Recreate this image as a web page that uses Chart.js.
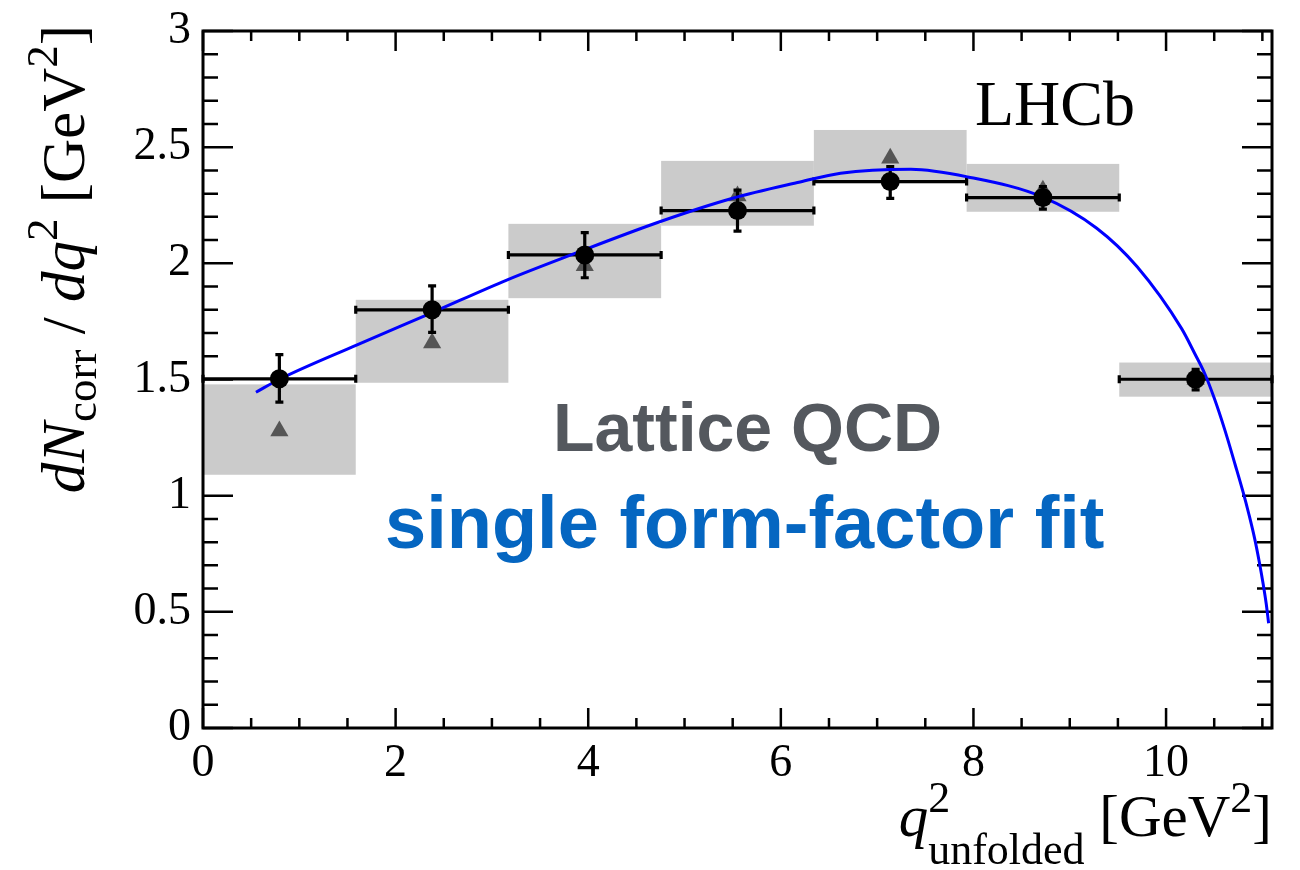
<!DOCTYPE html>
<html><head><meta charset="utf-8">
<script src="https://cdn.jsdelivr.net/npm/chart.js@4.4.1/dist/chart.umd.min.js"></script>
<style>html,body{margin:0;padding:0;background:#fff;}#wrap{width:1300px;height:870px;position:relative;}</style>
</head><body><div id="wrap"><canvas id="c"></canvas></div>
<script>
// ---- data ----
const binEdges   = [0, 1.586, 3.171, 4.757, 6.343, 7.929, 9.514, 11.1];
const binCenters = [0.793, 2.379, 3.964, 5.55, 7.136, 8.721, 10.307];
const dataY      = [1.503, 1.800, 2.036, 2.227, 2.352, 2.283, 1.501];
const statLow    = [1.403, 1.703, 1.938, 2.139, 2.280, 2.233, 1.455];
const statHigh   = [1.607, 1.903, 2.132, 2.315, 2.416, 2.330, 1.544];
const boxLow     = [1.090, 1.486, 1.850, 2.162, 2.345, 2.222, 1.426];
const boxHigh    = [1.479, 1.843, 2.170, 2.441, 2.574, 2.428, 1.573];
const latticeY   = [1.278, 1.657, 1.990, 2.290, 2.452, 2.315, 1.500];
const fitX = [0.55, 0.79, 1.6, 2.38, 3.16, 3.82, 4.75, 5.5, 6.2, 6.62, 7.35, 7.94, 8.72, 9.28, 9.7, 10.16, 10.3, 10.4, 10.5, 10.61, 10.72, 10.8, 10.86, 10.92, 10.97, 11.01, 11.04, 11.065];
const fitY = [1.445, 1.50, 1.649, 1.788, 1.929, 2.036, 2.18, 2.28, 2.35, 2.388, 2.405, 2.372, 2.285, 2.151, 1.985, 1.72, 1.61, 1.527, 1.42, 1.283, 1.13, 1.015, 0.92, 0.815, 0.71, 0.615, 0.535, 0.451];
const xTicks = [0, 2, 4, 6, 8, 10];
const yTicks = [0, 0.5, 1, 1.5, 2, 2.5, 3];
const xRange = [0, 11.1];
const yRange = [0, 3];

const SERIF = '"Liberation Serif", "Times New Roman", serif';
const SANS = '"Liberation Sans", Arial, sans-serif';

function drawRich(ctx, segs, x0, y0) {
  let x = x0, lastAdv = 0;
  for (const s of segs) {
    ctx.font = s.f;
    if (s.stack) x -= lastAdv;
    ctx.fillText(s.t, x, y0 + (s.dy || 0));
    const w = ctx.measureText(s.t).width;
    if (s.stack) x += Math.max(w, lastAdv); else x += w;
    lastAdv = w;
  }
  return x - x0;
}
function richWidth(ctx, segs) {
  let x = 0, lastAdv = 0;
  for (const s of segs) {
    ctx.font = s.f;
    const w = ctx.measureText(s.t).width;
    if (s.stack) { x -= lastAdv; x += Math.max(w, lastAdv); } else x += w;
    lastAdv = w;
  }
  return x;
}

const decor = {
  id: 'decor',
  beforeDatasetsDraw(chart) {
    const {ctx, chartArea: a, scales: {x, y}} = chart;
    ctx.save();
    ctx.strokeStyle = '#000';
    ctx.lineWidth = 2.5;
    ctx.beginPath();
    for (let k = 0; k * 0.5 <= xRange[1] + 1e-9; k++) {
      const px = x.getPixelForValue(k * 0.5);
      const len = (k % 4 === 0) ? 20 : 10;
      ctx.moveTo(px, a.bottom); ctx.lineTo(px, a.bottom - len);
      ctx.moveTo(px, a.top); ctx.lineTo(px, a.top + len);
    }
    for (let k = 0; k * 0.1 <= yRange[1] + 1e-9; k++) {
      const py = y.getPixelForValue(k * 0.1);
      const len = (k % 5 === 0) ? 30 : 15;
      ctx.moveTo(a.left, py); ctx.lineTo(a.left + len, py);
      ctx.moveTo(a.right, py); ctx.lineTo(a.right - len, py);
    }
    ctx.stroke();
    ctx.fillStyle = '#cbcbcb';
    for (let i = 0; i < binCenters.length; i++) {
      const x0 = x.getPixelForValue(binEdges[i]);
      const x1 = x.getPixelForValue(binEdges[i + 1]);
      const y0 = y.getPixelForValue(boxHigh[i]);
      const y1 = y.getPixelForValue(boxLow[i]);
      ctx.fillRect(x0, y0, x1 - x0, y1 - y0);
    }
    ctx.restore();
  },
  afterDatasetDraw(chart, args) {
    if (args.index !== 2) return;
    const {ctx, scales: {x, y}} = chart;
    ctx.save();
    ctx.strokeStyle = '#000';
    ctx.lineWidth = 3.2;
    ctx.beginPath();
    for (let i = 0; i < binCenters.length; i++) {
      const x0 = x.getPixelForValue(binEdges[i]);
      const x1 = x.getPixelForValue(binEdges[i + 1]);
      const xc = x.getPixelForValue(binCenters[i]);
      const yc = y.getPixelForValue(dataY[i]);
      const yl = y.getPixelForValue(statLow[i]);
      const yh = y.getPixelForValue(statHigh[i]);
      ctx.moveTo(x0, yc); ctx.lineTo(x1, yc);
      ctx.moveTo(x0, yc - 4); ctx.lineTo(x0, yc + 4);
      ctx.moveTo(x1, yc - 4); ctx.lineTo(x1, yc + 4);
      ctx.moveTo(xc, yl); ctx.lineTo(xc, yh);
      ctx.moveTo(xc - 4, yl); ctx.lineTo(xc + 4, yl);
      ctx.moveTo(xc - 4, yh); ctx.lineTo(xc + 4, yh);
    }
    ctx.stroke();
    ctx.restore();
  },
  afterDraw(chart) {
    const {ctx, chartArea: a} = chart;
    ctx.save();
    ctx.strokeStyle = '#000';
    ctx.lineWidth = 3;
    ctx.strokeRect(a.left, a.top, a.right - a.left, a.bottom - a.top);

    ctx.fillStyle = '#000';
    ctx.textBaseline = 'alphabetic';
    ctx.textAlign = 'left';
    ctx.font = '64px ' + SERIF;
    ctx.fillText('LHCb', 975, 125);

    ctx.font = 'bold 68px ' + SANS;
    ctx.fillStyle = '#54585e';
    ctx.fillText('Lattice QCD', 553, 451);
    ctx.font = 'bold 74px ' + SANS;
    ctx.fillStyle = '#0566c1';
    ctx.fillText('single form-factor fit', 385, 548);

    ctx.fillStyle = '#000';
    const small = '44px ' + SERIF, smallY = '45px ' + SERIF;
    const xSegs = [
      {t: 'q', f: 'italic 59px ' + SERIF},
      {t: '2', f: small, dy: -24},
      {t: 'unfolded', f: small, dy: 28, stack: true},
      {t: ' [GeV', f: '59px ' + SERIF},
      {t: '2', f: small, dy: -24},
      {t: ']', f: '59px ' + SERIF}
    ];
    const wx = richWidth(ctx, xSegs);
    drawRich(ctx, xSegs, 1272 - wx, 836);

    const big = '61px ' + SERIF, bigI = 'italic 61px ' + SERIF;
    const ySegs = [
      {t: 'd', f: bigI}, {t: 'N', f: bigI},
      {t: 'corr', f: smallY, dy: 12},
      {t: ' / ', f: big},
      {t: 'd', f: bigI}, {t: 'q', f: bigI},
      {t: '2', f: smallY, dy: -27},
      {t: ' [GeV', f: big},
      {t: '2', f: smallY, dy: -27},
      {t: ']', f: big}
    ];
    const wy = richWidth(ctx, ySegs);
    ctx.translate(84, 25 + wy);
    ctx.rotate(-Math.PI / 2);
    drawRich(ctx, ySegs, 0, 0);
    ctx.restore();
  }
};

new Chart(document.getElementById('c'), {
  type: 'scatter',
  data: {
    datasets: [
      {
        label: 'data', order: 0,
        data: binCenters.map((v, i) => ({x: v, y: dataY[i]})),
        pointRadius: 9.5, pointHoverRadius: 9.5, backgroundColor: '#000', borderWidth: 0
      },
      {
        type: 'line', label: 'fit', order: 1,
        data: fitX.map((v, i) => ({x: v, y: fitY[i]})),
        borderColor: '#0000ff', borderWidth: 3, pointRadius: 0, fill: false,
        cubicInterpolationMode: 'monotone'
      },
      {
        label: 'lattice', order: 2,
        data: binCenters.map((v, i) => ({x: v, y: latticeY[i]})),
        pointStyle: 'triangle', pointRadius: 10.5, pointHoverRadius: 10.5,
        backgroundColor: '#555555', borderWidth: 0
      }
    ]
  },
  options: {
    responsive: true, maintainAspectRatio: false, animation: false,
    events: [],
    layout: {padding: {top: 31, right: 28, left: 0, bottom: 0}},
    plugins: {legend: {display: false}, tooltip: {enabled: false}},
    scales: {
      x: {
        type: 'linear', min: xRange[0], max: xRange[1],
        grid: {display: false, drawTicks: false}, border: {display: false},
        afterBuildTicks: s => { s.ticks = xTicks.map(v => ({value: v})); },
        afterFit: s => { s.height = 142; s.paddingLeft = 0; s.paddingRight = 0; },
        ticks: {color: '#000', padding: 8, maxRotation: 0, font: {family: SERIF, size: 46},
                callback: v => String(v)}
      },
      y: {
        type: 'linear', min: yRange[0], max: yRange[1],
        grid: {display: false, drawTicks: false}, border: {display: false},
        afterBuildTicks: s => { s.ticks = yTicks.map(v => ({value: v})); },
        afterFit: s => { s.width = 203; s.paddingTop = 0; s.paddingBottom = 0; },
        ticks: {color: '#000', padding: 12, font: {family: SERIF, size: 46},
                callback: v => String(Math.round(v * 10) / 10)}
      }
    }
  },
  plugins: [decor]
});
</script>
</body></html>
